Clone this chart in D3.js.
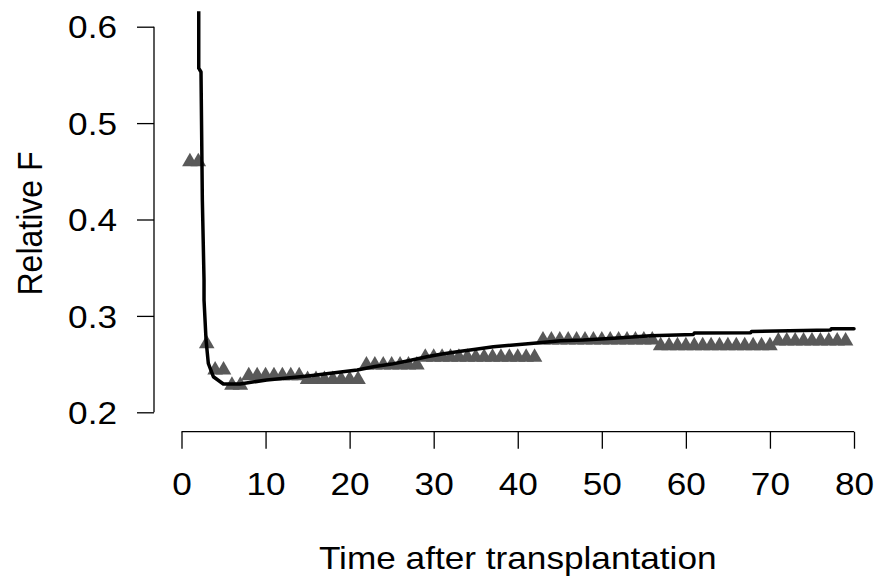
<!DOCTYPE html>
<html lang="en">
<head>
<meta charset="UTF-8">
<title>Relative F over time</title>
<script src="https://d3js.org/d3.v7.min.js"></script>
<style>
body {
  margin: 0;
  background: #fff;
  font-family: Arial, "Liberation Sans", Helvetica, sans-serif;
}
.axis path,
.axis line {
  fill: none;
  stroke: #000;
  stroke-width: 1.3px;
}
.axis text {
  font-family: Arial, "Liberation Sans", Helvetica, sans-serif;
  font-size: 32px;
  fill: #000;
}
</style>
</head>
<body>
<script>

var pointDays = d3.range(1, 80);
var pointValues = [
  0.46, 0.46,                                        // days 1-2
  0.271,                                             // day 3
  0.244, 0.244,                                      // days 4-5
  0.228, 0.228,                                      // days 6-7
  0.238, 0.238, 0.238, 0.238, 0.238, 0.238, 0.238,   // days 8-14
  0.234, 0.234, 0.234, 0.234, 0.234, 0.234, 0.234,   // days 15-21
  0.249, 0.249, 0.249, 0.249, 0.249, 0.249, 0.249,   // days 22-28
  0.257, 0.257, 0.257, 0.257, 0.257, 0.257, 0.257,
  0.257, 0.257, 0.257, 0.257, 0.257, 0.257, 0.257,   // days 29-42
  0.275, 0.275, 0.275, 0.275, 0.275, 0.275, 0.275,
  0.275, 0.275, 0.275, 0.275, 0.275, 0.275, 0.275,   // days 43-56
  0.269, 0.269, 0.269, 0.269, 0.269, 0.269, 0.269,
  0.269, 0.269, 0.269, 0.269, 0.269, 0.269, 0.269,   // days 57-70
  0.274, 0.274, 0.274, 0.274, 0.274, 0.274, 0.274,
  0.274, 0.274                                       // days 71-79
];

// fitted curve, vertices
var lineDays = [2.05, 2.05, 2.32, 2.48, 2.68, 2.68, 2.92, 3.19, 3.79, 4.98,
  6.96, 10.14, 14.1, 15.3, 20.9, 23.0, 25.0, 27.0, 29.2, 31.0, 33.0, 35.0, 37.1, 41.9, 45.1, 47.8, 51.4, 55.8,
  60.9, 61.0, 67.7, 67.8, 77.2, 77.3, 80];
var lineValues = [0.70, 0.557, 0.553, 0.420, 0.337, 0.3165, 0.275, 0.2508, 0.2369, 0.2294,
  0.2294, 0.2335, 0.2369, 0.238, 0.2439, 0.2475, 0.2500, 0.2535, 0.2577, 0.2605, 0.2630, 0.2655, 0.268, 0.2716, 0.2743, 0.275, 0.2768, 0.2795,
  0.2808, 0.2822, 0.2826, 0.2838, 0.2854, 0.2867, 0.2867];

var xTicks = [0, 10, 20, 30, 40, 50, 60, 70, 80];
var yTicks = [0.2, 0.3, 0.4, 0.5, 0.6];

var xLabel = "Time after transplantation";
var yLabel = "Relative F";

var width = 877, height = 581;
var stretch = 1.1; // text in the picture is a little wider than it is tall

var x = d3.scaleLinear().domain([0, 80]).range([181.5, 854]);
var y = d3.scaleLinear().domain([0.2, 0.6]).range([412.3, 26.7]);

var svg = d3.select("body").append("svg")
    .attr("width", width)
    .attr("height", height);

// plotting region (R style: data range plus 4%)
var px0 = x(-3.2), px1 = x(83.2), py0 = y(0.616), py1 = y(0.184);
svg.append("clipPath")
    .attr("id", "plotclip")
  .append("rect")
    .attr("x", px0)
    .attr("y", py0)
    .attr("width", px1 - px0)
    .attr("height", py1 - py0);

// y axis
var yAxis = d3.axisLeft(y)
    .tickValues(yTicks)
    .tickSize(17)
    .tickPadding(20)
    .tickFormat(d3.format(".1f"))
    .tickSizeOuter(0);

var gy = svg.append("g")
    .attr("class", "y axis")
    .attr("transform", "translate(154,0)")
    .call(yAxis);
gy.select(".domain").attr("d", "M0," + y(0.2) + "V" + y(0.6));
gy.selectAll("text")
    .attr("dy", "0.35em")
    .attr("x", -37 / stretch)
    .attr("transform", "scale(" + stretch + ",1)");

// x axis
var xAxis = d3.axisBottom(x)
    .tickValues(xTicks)
    .tickSize(17)
    .tickPadding(24)
    .tickFormat(d3.format("d"))
    .tickSizeOuter(0);

var gx = svg.append("g")
    .attr("class", "x axis")
    .attr("transform", "translate(0,431.7)")
    .call(xAxis);
gx.select(".domain").attr("d", "M" + x(0) + ",0H" + x(80));
gx.selectAll("text")
    .attr("transform", "scale(" + stretch + ",1)");

// axis titles
svg.append("text")
    .attr("transform", "translate(" + x(40) + ",569) scale(" + stretch + ",1)")
    .attr("text-anchor", "middle")
    .style("font-size", "32px")
    .text(xLabel);

svg.append("text")
    .attr("transform", "translate(41.5," + ((y(0.2) + y(0.6)) / 2 + 4) + ") scale(" + stretch + ",1) rotate(-90)")
    .attr("text-anchor", "middle")
    .style("font-size", "32px")
    .text(yLabel);

var plot = svg.append("g").attr("clip-path", "url(#plotclip)");

// triangles (pch 17 style)
var r = 9;
var tri = "M0," + (-r) + "L" + (r * 0.866) + "," + (r / 2) + "L" + (-r * 0.866) + "," + (r / 2) + "Z";

plot.selectAll(".pt")
    .data(pointDays.map(function(d, i) { return [d, pointValues[i]]; }))
  .enter().append("path")
    .attr("class", "pt")
    .attr("d", tri)
    .attr("transform", function(d) { return "translate(" + x(d[0]) + "," + y(d[1]) + ")"; })
    .attr("fill", "#595959");

// fitted line
var line = d3.line()
    .x(function(d) { return x(d[0]); })
    .y(function(d) { return y(d[1]); });

plot.append("path")
    .datum(lineDays.map(function(d, i) { return [d, lineValues[i]]; }))
    .attr("d", line)
    .attr("fill", "none")
    .attr("stroke", "#000")
    .attr("stroke-width", 3.5)
    .attr("stroke-linejoin", "round")
    .attr("stroke-linecap", "round");

</script>
</body>
</html>
